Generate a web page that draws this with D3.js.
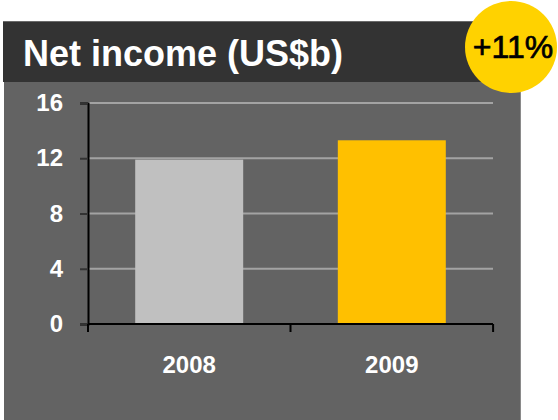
<!DOCTYPE html>
<html>
<head>
<meta charset="utf-8">
<script src="https://cdn.jsdelivr.net/npm/d3@7"></script>
<style>
  html, body { margin: 0; padding: 0; background: #ffffff; }
  svg { display: block; font-family: "Liberation Sans", Arial, sans-serif; }
</style>
</head>
<body>
<svg id="chart" width="558" height="420"></svg>
<script>
// Net income by year (US$ billions)
const years = ["2008", "2009"];
const netIncome = [11.9, 13.3];
const barColors = ["#c0c0c0", "#ffc000"];
const yTicks = [0, 4, 8, 12, 16];
const titleText = "Net income (US$b)";
const changeText = "+11%";

const svg = d3.select("#chart");

// Panel background and header strip
svg.append("rect").attr("x", 4).attr("y", 80).attr("width", 517).attr("height", 340)
  .attr("fill", "#636363");
svg.append("line").attr("x1", 520.5).attr("x2", 520.5).attr("y1", 80).attr("y2", 420)
  .attr("stroke", "#8a8a8a").attr("stroke-width", 1);
svg.append("rect").attr("x", 3).attr("y", 21).attr("width", 518).attr("height", 61)
  .attr("fill", "#333333");
svg.append("line").attr("x1", 3).attr("x2", 521).attr("y1", 21.5).attr("y2", 21.5)
  .attr("stroke", "#6a6a6a").attr("stroke-width", 1);

svg.append("text").attr("x", 23).attr("y", 66)
  .attr("fill", "#ffffff").attr("font-size", 36).attr("font-weight", "bold")
  .text(titleText);

// Scales
const x = d3.scaleBand().domain(years).range([88, 493]).paddingInner(0.467).paddingOuter(0.233);
const y = d3.scaleLinear().domain([0, 16]).range([324, 103]);

// Horizontal gridlines
svg.append("g").selectAll("line").data(yTicks.filter(d => d > 0)).join("line")
  .attr("x1", 88).attr("x2", 493)
  .attr("y1", d => y(d)).attr("y2", d => y(d))
  .attr("stroke", "#a3a3a3").attr("stroke-width", 2);

// Bars
svg.append("g").selectAll("rect").data(years).join("rect")
  .attr("x", d => x(d))
  .attr("width", x.bandwidth())
  .attr("y", (d, i) => y(netIncome[i]))
  .attr("height", (d, i) => y(0) - y(netIncome[i]))
  .attr("fill", (d, i) => barColors[i]);

// Y axis
const yAxis = svg.append("g").attr("transform", "translate(88,0)")
  .call(d3.axisLeft(y).tickValues(yTicks).tickSize(8).tickPadding(17).tickFormat(d3.format("d")));
yAxis.select(".domain").attr("stroke", "#000").attr("stroke-width", 2);
yAxis.selectAll(".tick line").attr("stroke", "#333").attr("stroke-width", 2);
yAxis.selectAll(".tick text").attr("fill", "#ffffff").attr("font-size", 24)
  .attr("font-weight", "bold").attr("font-family", "Liberation Sans, Arial, sans-serif");

// X axis with ticks at band boundaries
const xAxisG = svg.append("g").attr("transform", "translate(0,324)");
xAxisG.append("line").attr("x1", 88).attr("x2", 493).attr("y1", 0).attr("y2", 0)
  .attr("stroke", "#000").attr("stroke-width", 2);
const step = x.step();
const bounds = [88].concat(years.map(d => x(d) + x.bandwidth() + (step - x.bandwidth()) / 2));
xAxisG.selectAll("line.tk").data(bounds).join("line").attr("class", "tk")
  .attr("x1", d => d).attr("x2", d => d).attr("y1", 0).attr("y2", 8)
  .attr("stroke", "#000").attr("stroke-width", 2);
xAxisG.selectAll("text").data(years).join("text")
  .attr("x", d => x(d) + x.bandwidth() / 2)
  .attr("y", 49)
  .attr("text-anchor", "middle")
  .attr("fill", "#ffffff").attr("font-size", 24).attr("font-weight", "bold")
  .text(d => d);

// Year-on-year change badge
svg.append("circle").attr("cx", 511).attr("cy", 47).attr("r", 46).attr("fill", "#ffd200");
svg.append("text").attr("x", 513).attr("y", 58).attr("text-anchor", "middle")
  .attr("fill", "#000").attr("stroke", "#000").attr("stroke-width", 0.7)
  .attr("font-size", 32).text(changeText);
</script>
</body>
</html>
